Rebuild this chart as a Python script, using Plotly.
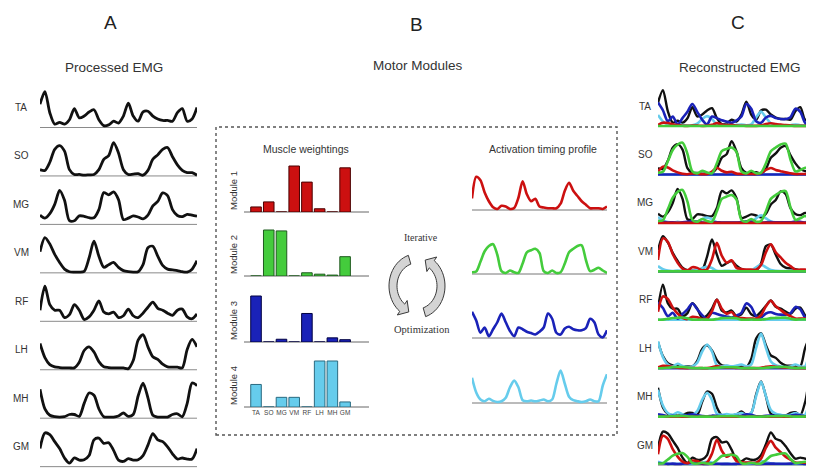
import numpy as np
import plotly.graph_objects as go

# page body has an 8px margin: figure is placed at (8, 8) in the 814x468 window
OFF = 8
W, H = 814 - OFF, 468 - OFF

# ---------------- data ----------------
muscles = ["TA", "SO", "MG", "VM", "RF", "LH", "MH", "GM"]

emg_TA = [0.63, 0.97, 0.40, 0.09, 0.14, 0.09, 0.21, 0.51, 0.26, 0.31, 0.42, 0.48, 0.21, 0.05, 0.07, 0.17, 0.12,
          0.31, 0.66, 0.31, 0.17, 0.42, 0.44, 0.31, 0.23, 0.19, 0.19, 0.17, 0.40, 0.51, 0.17, 0.23, 0.54]
emg_SO = [0.17, 0.15, 0.37, 0.72, 0.82, 0.67, 0.17, 0.04, 0.04, 0.02, 0.03, 0.04, 0.17, 0.45, 0.55, 0.90, 0.62,
          0.17, 0.04, 0.05, 0.06, 0.02, 0.15, 0.45, 0.57, 0.72, 0.77, 0.52, 0.30, 0.15, 0.09, 0.09, 0.02]
emg_MG = [0.25, 0.17, 0.29, 0.54, 0.92, 0.65, 0.10, 0.10, 0.23, 0.22, 0.18, 0.18, 0.40, 0.86, 0.80, 0.88, 0.67,
          0.13, 0.17, 0.23, 0.20, 0.15, 0.25, 0.50, 0.62, 0.85, 0.78, 0.40, 0.24, 0.21, 0.27, 0.25, 0.22]
emg_VM = [0.57, 0.95, 0.78, 0.50, 0.28, 0.10, 0.03, 0.02, 0.02, 0.04, 0.40, 0.86, 0.45, 0.15, 0.22, 0.28, 0.15,
          0.06, 0.03, 0.02, 0.03, 0.22, 0.68, 0.72, 0.45, 0.20, 0.10, 0.08, 0.06, 0.03, 0.02, 0.10, 0.33]
emg_RF = [0.30, 0.95, 0.45, 0.30, 0.30, 0.10, 0.18, 0.45, 0.30, 0.05, 0.12, 0.30, 0.55, 0.25, 0.20, 0.25, 0.10,
          0.15, 0.33, 0.15, 0.10, 0.22, 0.38, 0.52, 0.35, 0.30, 0.22, 0.16, 0.30, 0.33, 0.12, 0.07, 0.20]
emg_LH = [0.71, 0.33, 0.14, 0.08, 0.06, 0.05, 0.05, 0.05, 0.20, 0.52, 0.62, 0.48, 0.22, 0.08, 0.06, 0.05, 0.05,
          0.05, 0.03, 0.25, 0.80, 0.95, 0.62, 0.35, 0.28, 0.15, 0.08, 0.07, 0.07, 0.05, 0.55, 0.82, 0.62]
emg_MH = [0.78, 0.25, 0.08, 0.04, 0.03, 0.04, 0.10, 0.10, 0.05, 0.40, 0.68, 0.62, 0.25, 0.04, 0.03, 0.03, 0.06,
          0.14, 0.05, 0.10, 0.60, 0.95, 0.55, 0.08, 0.03, 0.03, 0.03, 0.10, 0.12, 0.04, 0.40, 0.95, 0.88]
emg_GM = [0.45, 0.90, 0.85, 0.65, 0.45, 0.18, 0.03, 0.18, 0.12, 0.13, 0.25, 0.70, 0.75, 0.60, 0.62, 0.40, 0.12,
          0.08, 0.16, 0.12, 0.13, 0.25, 0.55, 0.88, 0.70, 0.65, 0.50, 0.30, 0.15, 0.18, 0.15, 0.15, 0.45]

act_M1 = [0.33, 0.95, 0.85, 0.50, 0.25, 0.08, 0.03, 0.12, 0.10, 0.03, 0.06, 0.35, 0.82, 0.45, 0.25, 0.32, 0.10,
          0.07, 0.05, 0.05, 0.05, 0.18, 0.55, 0.78, 0.55, 0.40, 0.25, 0.15, 0.05, 0.05, 0.05, 0.03, 0.10]
act_M2 = [0.05, 0.07, 0.35, 0.65, 0.80, 0.85, 0.55, 0.08, 0.03, 0.10, 0.05, 0.03, 0.30, 0.62, 0.68, 0.72, 0.60,
          0.08, 0.03, 0.10, 0.03, 0.05, 0.30, 0.62, 0.72, 0.80, 0.82, 0.40, 0.08, 0.12, 0.18, 0.10, 0.03]
act_M3 = [0.75, 0.50, 0.15, 0.30, 0.05, 0.25, 0.45, 0.70, 0.45, 0.20, 0.05, 0.30, 0.25, 0.18, 0.14, 0.10, 0.18,
          0.30, 0.70, 0.55, 0.15, 0.10, 0.27, 0.32, 0.25, 0.22, 0.22, 0.28, 0.55, 0.45, 0.10, 0.02, 0.22]
act_M4 = [0.72, 0.30, 0.10, 0.05, 0.12, 0.06, 0.03, 0.05, 0.15, 0.45, 0.64, 0.45, 0.08, 0.05, 0.07, 0.05, 0.07,
          0.10, 0.05, 0.10, 0.55, 0.93, 0.55, 0.18, 0.08, 0.05, 0.03, 0.05, 0.10, 0.05, 0.05, 0.50, 0.82]

weights_M1 = [0.11, 0.22, 0.00, 1.00, 0.65, 0.07, 0.00, 0.96]
weights_M2 = [0.00, 1.00, 0.98, 0.00, 0.07, 0.04, 0.02, 0.42]
weights_M3 = [1.00, 0.00, 0.06, 0.00, 0.62, 0.00, 0.09, 0.05]
weights_M4 = [0.49, 0.00, 0.21, 0.21, 0.00, 1.00, 1.00, 0.11]

module_names = ["Module 1", "Module 2", "Module 3", "Module 4"]
module_colors = ["#cc1010", "#44cc3c", "#1a22b8", "#66ccec"]
module_edges = ["#4a0000", "#1f5a1f", "#000040", "#2a6a80"]

emg = [emg_TA, emg_SO, emg_MG, emg_VM, emg_RF, emg_LH, emg_MH, emg_GM]
acts = [act_M1, act_M2, act_M3, act_M4]
weights = [weights_M1, weights_M2, weights_M3, weights_M4]

# ---------------- helpers ----------------
fig = go.Figure()
layout = {}
shapes = []
annotations = []
counter = [0]


def fx(px):
    return (px - OFF) / W


def fy(py):
    return 1 - (py - OFF) / H


def new_axes(x0, x1, ytop, ybot, xr, yr, xvisible=False, **xkw):
    counter[0] += 1
    n = counter[0]
    sx = "" if n == 1 else str(n)
    xa = dict(domain=[max(0, fx(x0)), min(1, fx(x1))], range=xr, visible=xvisible,
              showgrid=False, zeroline=False, fixedrange=True, anchor="y" + sx)
    xa.update(xkw)
    layout["xaxis" + sx] = xa
    layout["yaxis" + sx] = dict(domain=[max(0, fy(ybot)), min(1, fy(ytop))], range=yr, visible=False,
                                showgrid=False, zeroline=False, fixedrange=True, anchor="x" + sx)
    return "x" + sx, "y" + sx


def hline(x0, x1, y, color="#8a8a8a", width=1):
    shapes.append(dict(type="line", xref="paper", yref="paper", x0=fx(x0), x1=min(1, fx(x1)), y0=fy(y), y1=fy(y),
                       line=dict(color=color, width=width), layer="below"))


def text(x, y, s, size, color="#333", family="Liberation Sans", angle=0):
    annotations.append(dict(x=fx(x), y=fy(y), xref="paper", yref="paper", text=s, showarrow=False,
                            font=dict(size=size, color=color, family=family), textangle=angle,
                            xanchor="center", yanchor="middle"))


t = np.linspace(0, 1, len(emg_TA))

# ---------------- headers ----------------
text(110, 22, "A", 19, "#222")
text(417, 24, "B", 19, "#222")
text(738, 22, "C", 19, "#222")
text(114, 67, "Processed EMG", 13.5)
text(418, 66, "Motor Modules", 13.5)
text(740, 67, "Reconstructed EMG", 13.5)

# ---------------- A: processed EMG ----------------
ppu = 37.0
for i, m in enumerate(muscles):
    base = 127.5 + 48.45 * i
    xa, ya = new_axes(40, 197, base - 40, base + 4, [0, 1], [-4 / ppu, 40 / ppu])
    hline(40, 197, base)
    fig.add_trace(go.Scatter(x=t, y=emg[i], xaxis=xa, yaxis=ya, mode="lines",
                             line=dict(color="#111", width=2.8, shape="spline", smoothing=0.8),
                             showlegend=False, hoverinfo="skip"))
    text(21, base - 20, m, 10)

# ---------------- B: motor modules ----------------
shapes.append(dict(type="rect", xref="paper", yref="paper", x0=fx(216), x1=fx(617), y0=fy(435), y1=fy(127),
                   line=dict(color="#555", width=1.4, dash="dot"), layer="below"))
text(306, 149, "Muscle weightings", 10.5, "#333")
text(543, 149, "Activation timing profile", 10.5, "#333")

bar_bases = [212, 276, 342, 407]
act_bases = [210, 274, 338, 403]
bpu = 46.0
apu = 35.0
for k in range(4):
    base = bar_bases[k]
    last = (k == 3)
    xa, ya = new_axes(243.3, 368, base - 50, base, [-1, 8.8], [0, 50 / bpu],
                      xvisible=last, showline=False, ticks="", tickangle=0,
                      tickvals=list(range(8)), ticktext=muscles,
                      tickfont=dict(size=6.5, color="#444", family="Liberation Sans Narrow, Liberation Sans"))
    hline(244, 369, base, "#666", 1)
    fig.add_trace(go.Bar(x=list(range(8)), y=weights[k], xaxis=xa, yaxis=ya, width=0.83,
                         marker=dict(color=module_colors[k], line=dict(color=module_edges[k], width=1)),
                         showlegend=False, hoverinfo="skip"))
    text(233, base - 21, module_names[k], 9.5, "#333", angle=-90)

    abase = act_bases[k]
    xa2, ya2 = new_axes(472, 607, abase - 42, abase + 4, [0, 1], [-4 / apu, 42 / apu])
    hline(472, 607, abase, "#777", 1)
    fig.add_trace(go.Scatter(x=t, y=acts[k], xaxis=xa2, yaxis=ya2, mode="lines",
                             line=dict(color=module_colors[k], width=2.6, shape="spline", smoothing=0.8),
                             showlegend=False, hoverinfo="skip"))

# iterative optimization arrows


def arc_arrow(cx, cy, R, w, ky, a0, a1, head_deg, head_w):
    pts_out, pts_in = [], []
    a_end = a1 - head_deg
    for a in np.linspace(a0, a_end, 24):
        r = np.radians(a)
        pts_out.append((cx + (R + w / 2) * np.cos(r), cy - ky * (R + w / 2) * np.sin(r)))
        pts_in.append((cx + (R - w / 2) * np.cos(r), cy - ky * (R - w / 2) * np.sin(r)))
    rb = np.radians(a_end)
    rt = np.radians(a1)
    head = [(cx + (R + head_w / 2) * np.cos(rb), cy - ky * (R + head_w / 2) * np.sin(rb)),
            (cx + R * np.cos(rt), cy - ky * R * np.sin(rt)),
            (cx + (R - head_w / 2) * np.cos(rb), cy - ky * (R - head_w / 2) * np.sin(rb))]
    poly = pts_out + head + pts_in[::-1]
    path = "M " + " L ".join(f"{fx(px):.5f},{fy(py):.5f}" for px, py in poly) + " Z"
    return path


for a0, a1 in [(108, 250), (288, 430)]:
    shapes.append(dict(type="path", xref="paper", yref="paper",
                       path=arc_arrow(417, 286, 24, 8, 1.15, a0, a1, 18, 16),
                       fillcolor="#d4d4d4", line=dict(color="#3a3a3a", width=1)))

text(421, 237, "Iterative", 10, "#333", family="Liberation Serif")
text(422, 329, "Optimization", 10.5, "#333", family="Liberation Serif")

# ---------------- C: reconstructed EMG ----------------
A = np.array(acts)
Wm = np.array(weights)
draw_order = [3, 2, 0, 1]  # cyan, blue, red, green drawn over black
for j, m in enumerate(muscles):
    base = 126 + 48.45 * j
    xa, ya = new_axes(658, 814, base - 40, base + 4, [0, (814 - 658) / 157], [-4 / ppu, 40 / ppu])
    hline(658, 814, base)
    recon = Wm[:, j] @ A
    scale = max(emg[j]) / recon.max()
    fig.add_trace(go.Scatter(x=t, y=emg[j], xaxis=xa, yaxis=ya, mode="lines",
                             line=dict(color="#111", width=2.4, shape="spline", smoothing=0.8),
                             showlegend=False, hoverinfo="skip"))
    for k in draw_order:
        contrib = scale * Wm[k, j] * A[k]
        fig.add_trace(go.Scatter(x=t, y=contrib, xaxis=xa, yaxis=ya, mode="lines",
                                 line=dict(color=module_colors[k], width=2.6, shape="spline", smoothing=0.8),
                                 showlegend=False, hoverinfo="skip"))
    text(645, base - 20, m, 10)

fig.update_layout(**layout)
fig.update_layout(width=W, height=H, margin=dict(l=0, r=0, t=0, b=0),
                  paper_bgcolor="white", plot_bgcolor="rgba(0,0,0,0)",
                  shapes=shapes, annotations=annotations, showlegend=False,
                  bargap=0.1)
fig.write_html("out.html")
